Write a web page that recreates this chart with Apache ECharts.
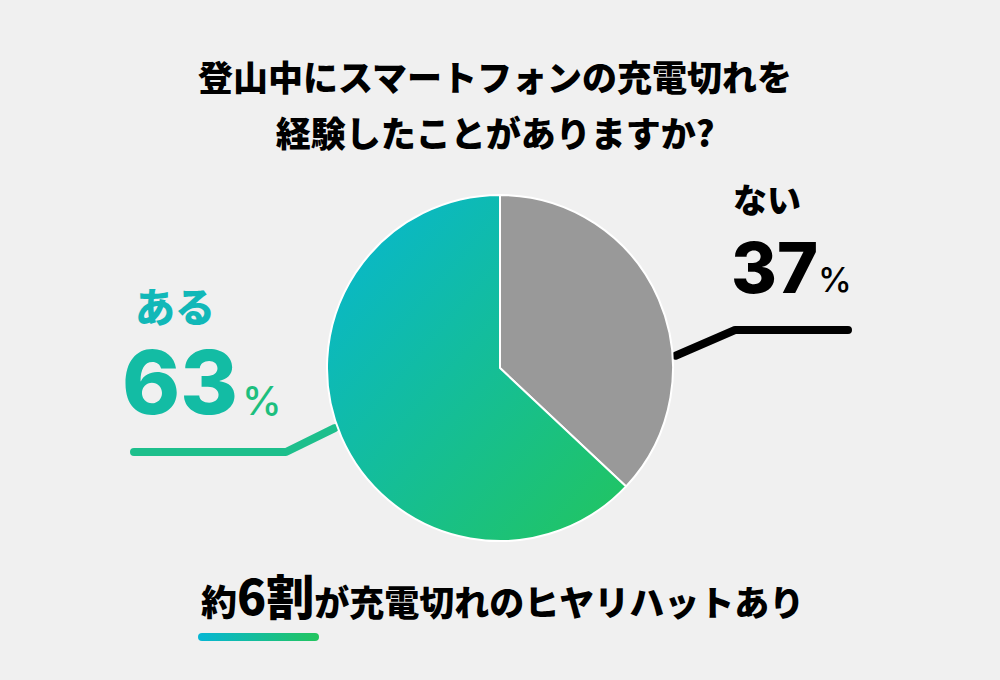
<!DOCTYPE html>
<html><head><meta charset="utf-8">
<script src="https://cdn.jsdelivr.net/npm/echarts@6/dist/echarts.min.js"></script>
<style>html,body{margin:0;padding:0;background:#f0f0f0;}#c{width:1000px;height:680px;}</style>
</head><body><div id="c"></div>
<script>
const categories = ['ない', 'ある'];
const values = [37, 63];
const titleLines = ['登山中にスマートフォンの充電切れを', '経験したことがありますか?'];
const subtitleParts = ['約', '6割', 'が充電切れのヒヤリハットあり'];

const JP = '"Noto Sans CJK JP", sans-serif';
const NUM = 'Inter, "Noto Sans", sans-serif';
const CYAN = '#06b6d4', GREEN = '#22c55e';
const grad = (x2, y2) => new echarts.graphic.LinearGradient(0, 0, x2, y2, [
  { offset: 0, color: CYAN }, { offset: 1, color: GREEN }]);

const cx = 500, cy = 368, R = 173;
const chart = echarts.init(document.getElementById('c'), null, { renderer: 'svg' });

const pt = (deg, r) => [cx + r * Math.cos(deg * Math.PI / 180), cy - r * Math.sin(deg * Math.PI / 180)];

chart.setOption({
  backgroundColor: '#f0f0f0',
  animation: false,
  title: [{
    text: titleLines.join('\n'),
    left: 490, top: 42, textAlign: 'center',
    textStyle: { fontFamily: JP, fontWeight: 900, fontSize: 35, lineHeight: 56, color: '#000' }
  }, {
    text: '{a|' + subtitleParts[0] + '}{b|' + subtitleParts[1] + '}{c|' + subtitleParts[2] + '}',
    left: 196, top: 557,
    textStyle: {
      rich: {
        a: { fontFamily: JP, fontWeight: 900, fontSize: 36, color: '#000', verticalAlign: 'bottom', lineHeight: 56 },
        b: { fontFamily: JP, fontWeight: 900, fontSize: 48, color: '#000', verticalAlign: 'bottom', lineHeight: 56 },
        c: { fontFamily: JP, fontWeight: 900, fontSize: 35, color: '#000', verticalAlign: 'bottom', lineHeight: 56 }
      }
    }
  }],
  graphic: [{
    type: 'rect', shape: { x: 198, y: 633, width: 121, height: 8, r: 4 },
    style: { fill: new echarts.graphic.LinearGradient(0, 0, 1, 0, [{ offset: 0, color: CYAN }, { offset: 1, color: GREEN }]) }
  }],
  series: [{
    type: 'pie',
    center: [cx, cy],
    radius: R,
    startAngle: 90,
    clockwise: true,
    silent: true,
    itemStyle: { borderColor: '#fff', borderWidth: 2 },
    data: [
      {
        name: categories[0], value: values[0],
        itemStyle: { color: '#999999' },
        label: {
          color: '#000',
          formatter: '{n|{b}}\n{v|{c}}{p|%}',
          rich: {
            n: { fontFamily: JP, fontWeight: 900, fontSize: 34, lineHeight: 40, padding: [0, 0, 14, 2] },
            v: { fontFamily: NUM, fontWeight: 800, fontSize: 70, lineHeight: 84 },
            p: { fontFamily: NUM, fontWeight: 500, fontSize: 34, lineHeight: 84, padding: [24, 0, 0, 0] }
          }
        },
        labelLine: { lineStyle: { color: '#000' } }
      },
      {
        name: categories[1], value: values[1],
        itemStyle: { color: grad(1, 1) },
        label: {
          formatter: '{n|{b}}\n{v|{c}}{p|%}',
          rich: {
            n: { fontFamily: JP, fontWeight: 900, fontSize: 40, lineHeight: 46, padding: [0, 0, 0, 13], color: '#11b8b8' },
            v: { fontFamily: NUM, fontWeight: 800, fontSize: 88, lineHeight: 108, color: '#13bca4' },
            p: { fontFamily: NUM, fontWeight: 500, fontSize: 40, lineHeight: 108, padding: [36, 0, 0, 4], color: '#1dbf7e' }
          }
        },
        labelLine: { lineStyle: { color: '#1dbf8c' } }
      }
    ],
    label: { show: true, position: 'outside' },
    labelLine: { show: true, lineStyle: { width: 8, cap: 'round', join: 'round' } },
    labelLayout: function (p) {
      if (p.dataIndex === 0) {
        return {
          x: 731, y: 185, align: 'left', verticalAlign: 'top',
          labelLinePoints: [pt(4, R + 3), [735, 330], [848, 330]]
        };
      }
      return {
        x: 122, y: 282, align: 'left', verticalAlign: 'top',
        labelLinePoints: [pt(200, R + 3), [286, 452], [134, 452]]
      };
    }
  }]
});
</script></body></html>
